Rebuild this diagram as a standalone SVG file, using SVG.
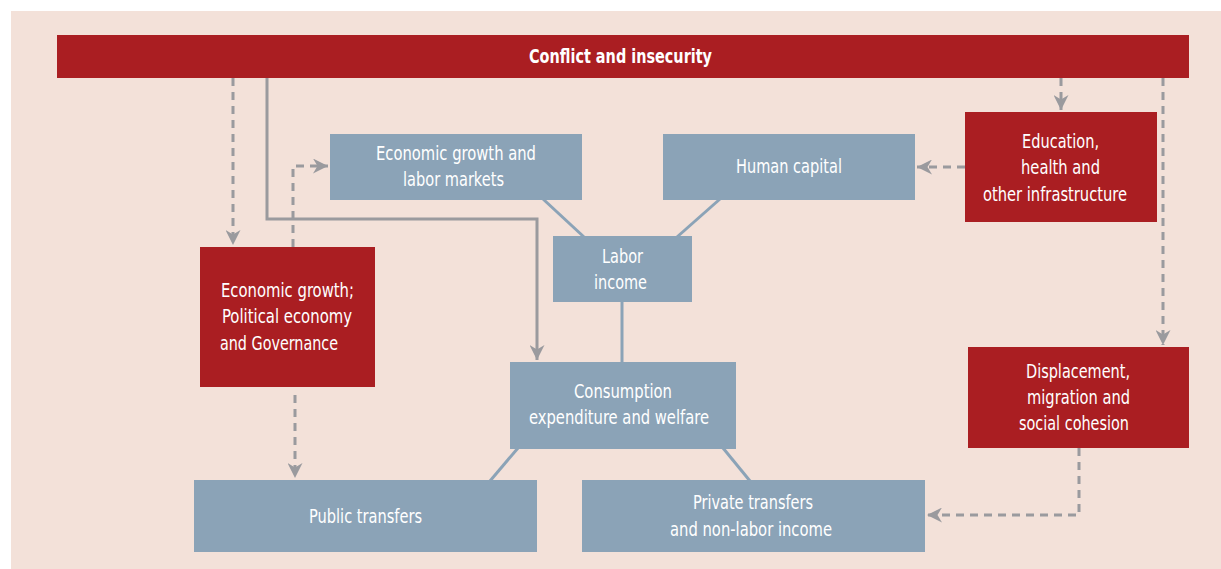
<svg xmlns="http://www.w3.org/2000/svg" width="1221" height="569" viewBox="0 0 1221 569">
  <defs>
    <style>
      .red { fill: #AA1E22; }
      .blue { fill: #8BA3B7; }
      .lbl { font-family: "DejaVu Sans Condensed", "Liberation Sans", sans-serif; font-size: 20px; fill: #FFFFFF; }
      .title { font-family: "DejaVu Sans Condensed", "Liberation Sans", sans-serif; font-size: 20px; font-weight: bold; fill: #FFFFFF; }
      .dash { fill: none; stroke: #9A9A9E; stroke-width: 3; stroke-dasharray: 8 6; }
      .solid { fill: none; stroke: #9A9A9E; stroke-width: 3; }
      .link { fill: none; stroke: #8BA3B7; stroke-width: 3; }
    </style>
    <marker id="arr" viewBox="0 0 10 10" refX="10" refY="5" markerWidth="5" markerHeight="5" markerUnits="strokeWidth" orient="auto">
      <path d="M0,0 L10,5 L0,10 L3,5 Z" fill="#9A9A9E"/>
    </marker>
  </defs>

  <!-- panel background -->
  <rect x="11" y="11" width="1210" height="558" fill="#F3E1D9"/>

  <!-- connectors -->
  <g id="connectors">
    <path class="dash" d="M233,78 V245" marker-end="url(#arr)"/>
    <path class="solid" d="M267,78 V219 H537 V360" marker-end="url(#arr)"/>
    <path class="dash" d="M293,247 V166 H328" marker-end="url(#arr)"/>
    <path class="dash" d="M295,395 V478" marker-end="url(#arr)"/>
    <path class="dash" d="M1061,78 V110" marker-end="url(#arr)"/>
    <path class="dash" d="M1163,78 V345" marker-end="url(#arr)"/>
    <path class="dash" d="M965,167 H917" marker-end="url(#arr)"/>
    <path class="dash" d="M1079,448 V515 H927" marker-end="url(#arr)"/>
    <path class="link" d="M543,199 L584,237"/>
    <path class="link" d="M720,199 L677,237"/>
    <path class="link" d="M622,301 V363"/>
    <path class="link" d="M518,448 L490,481"/>
    <path class="link" d="M723,448 L750,481"/>
  </g>

  <g id="conflict">
    <rect class="red" x="57" y="35" width="1132" height="43"/>
    <text class="title" x="529" y="63" textLength="183" lengthAdjust="spacingAndGlyphs">Conflict and insecurity</text>
  </g>

  <g id="econ-labor">
    <rect class="blue" x="330" y="134" width="252" height="66"/>
    <text class="lbl" x="376" y="160" textLength="160" lengthAdjust="spacingAndGlyphs">Economic growth and</text>
    <text class="lbl" x="403" y="186" textLength="101" lengthAdjust="spacingAndGlyphs">labor markets</text>
  </g>

  <g id="human-capital">
    <rect class="blue" x="663" y="134" width="252" height="66"/>
    <text class="lbl" x="736" y="173" textLength="106" lengthAdjust="spacingAndGlyphs">Human capital</text>
  </g>

  <g id="labor-income">
    <rect class="blue" x="553" y="236" width="139" height="66"/>
    <text class="lbl" x="602" y="263" textLength="41" lengthAdjust="spacingAndGlyphs">Labor</text>
    <text class="lbl" x="594" y="289" textLength="53" lengthAdjust="spacingAndGlyphs">income</text>
  </g>

  <g id="consumption">
    <rect class="blue" x="510" y="362" width="226" height="87"/>
    <text class="lbl" x="574" y="398" textLength="98" lengthAdjust="spacingAndGlyphs">Consumption</text>
    <text class="lbl" x="529" y="424" textLength="180" lengthAdjust="spacingAndGlyphs">expenditure and welfare</text>
  </g>

  <g id="growth-governance">
    <rect class="red" x="200" y="247" width="175" height="140"/>
    <text class="lbl" x="221" y="297" textLength="133" lengthAdjust="spacingAndGlyphs">Economic growth;</text>
    <text class="lbl" x="222" y="323" textLength="130" lengthAdjust="spacingAndGlyphs">Political economy</text>
    <text class="lbl" x="220" y="350" textLength="118" lengthAdjust="spacingAndGlyphs">and Governance</text>
  </g>

  <g id="public-transfers">
    <rect class="blue" x="194" y="480" width="343" height="72"/>
    <text class="lbl" x="309" y="523" textLength="113" lengthAdjust="spacingAndGlyphs">Public transfers</text>
  </g>

  <g id="private-transfers">
    <rect class="blue" x="582" y="480" width="343" height="72"/>
    <text class="lbl" x="693" y="509" textLength="120" lengthAdjust="spacingAndGlyphs">Private transfers</text>
    <text class="lbl" x="670" y="536" textLength="162" lengthAdjust="spacingAndGlyphs">and non-labor income</text>
  </g>

  <g id="education">
    <rect class="red" x="965" y="112" width="192" height="110"/>
    <text class="lbl" x="1022" y="148" textLength="77" lengthAdjust="spacingAndGlyphs">Education,</text>
    <text class="lbl" x="1021" y="174" textLength="79" lengthAdjust="spacingAndGlyphs">health and</text>
    <text class="lbl" x="983" y="201" textLength="144" lengthAdjust="spacingAndGlyphs">other infrastructure</text>
  </g>

  <g id="displacement">
    <rect class="red" x="968" y="347" width="221" height="101"/>
    <text class="lbl" x="1026" y="378" textLength="104" lengthAdjust="spacingAndGlyphs">Displacement,</text>
    <text class="lbl" x="1027" y="404" textLength="103" lengthAdjust="spacingAndGlyphs">migration and</text>
    <text class="lbl" x="1019" y="430" textLength="110" lengthAdjust="spacingAndGlyphs">social cohesion</text>
  </g>
</svg>
